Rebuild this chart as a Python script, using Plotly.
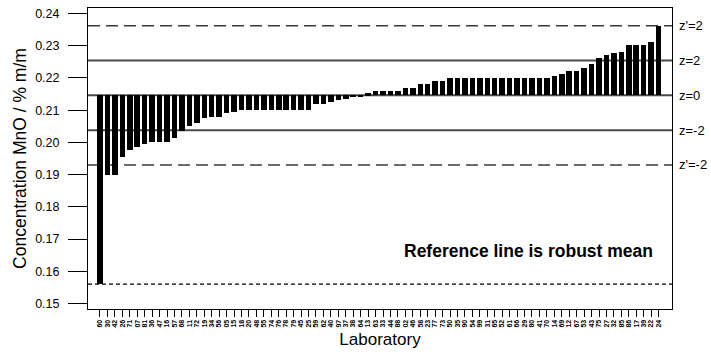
import plotly.graph_objects as go

labs = ["60","30","42","26","71","07","81","36","47","16","57","68","11","72","19","34",
        "56","05","15","18","20","48","55","74","76","78","79","45","25","59","62","40",
        "97","37","38","64","13","63","33","44","88","02","46","58","23","77","73","50",
        "35","90","54","99","31","65","52","61","66","29","80","41","70","14","69","12",
        "67","53","43","75","27","32","85","86","17","39","22","24"]

values = [0.156, 0.190, 0.190, 0.1955, 0.1975, 0.1985, 0.1995, 0.200, 0.200, 0.200,
          0.2015, 0.2035, 0.205, 0.206, 0.2075, 0.2078, 0.2078, 0.209, 0.2095,
          0.210, 0.210, 0.210, 0.210, 0.210, 0.210, 0.210, 0.210, 0.210, 0.210,
          0.212, 0.212, 0.2125, 0.213, 0.2134, 0.214, 0.214, 0.2152,
          0.216, 0.216, 0.216, 0.216,
          0.217, 0.217, 0.218, 0.218, 0.219, 0.219,
          0.220, 0.220, 0.220, 0.220, 0.220, 0.220, 0.220, 0.220, 0.220, 0.220,
          0.220, 0.220, 0.220, 0.220,
          0.2206, 0.2212, 0.2221, 0.2221, 0.2231, 0.2242, 0.2262, 0.2272, 0.2276,
          0.2281, 0.2301, 0.2301, 0.2301, 0.2311, 0.2361]

robust_mean = 0.2146
ref_values = [0.2362, 0.2254, 0.2146, 0.2038, 0.1930]
ref_labels = ["z'=2", "z=2", "z=0", "z=-2", "z'=-2"]
ref_styles = ["dash", "solid", "solid", "solid", "dash"]
lower_line = 0.1560

idx = list(range(len(values)))
FONT = "Liberation Sans, Arial, Helvetica, sans-serif"

fig = go.Figure()
fig.add_trace(go.Bar(
    x=idx, y=[v - robust_mean for v in values], base=robust_mean,
    width=0.74, marker=dict(color="black", line=dict(width=0)),
    hoverinfo="skip", showlegend=False))

shapes = []
annotations = []
for v, lab, st in zip(ref_values, ref_labels, ref_styles):
    if st == "dash":
        ln = dict(color="#3a3a3a", width=1.5, dash="12px,6px")
    else:
        ln = dict(color="#4a4a4a", width=2)
    shapes.append(dict(type="line", xref="paper", x0=0, x1=1, yref="y", y0=v, y1=v,
                       line=ln, layer="below"))
    annotations.append(dict(xref="paper", x=1, xanchor="left", xshift=5,
                            yref="y", y=v, yanchor="middle", text=lab, showarrow=False,
                            font=dict(family=FONT, size=13, color="black")))
shapes.append(dict(type="line", xref="paper", x0=0, x1=1, yref="y", y0=lower_line, y1=lower_line,
                   line=dict(color="black", width=1.3, dash="4px,3px"), layer="below"))

annotations.append(dict(xref="paper", x=0.754, xanchor="center", yref="paper", y=0.193,
                        yanchor="middle", text="<b>Reference line is robust mean</b>",
                        showarrow=False, font=dict(family=FONT, size=17.5, color="black")))

fig.update_layout(
    width=711, height=358,
    margin=dict(l=88, r=39, t=8, b=49),
    paper_bgcolor="white", plot_bgcolor="white",
    font=dict(family=FONT, color="black"),
    shapes=shapes, annotations=annotations,
    bargap=0,
    xaxis=dict(range=[-1.61, 76.8], tickmode="array", tickvals=idx, ticktext=labs,
               tickangle=-90, tickfont=dict(size=7, family=FONT, weight="bold"), ticks="outside",
               ticklen=7, tickcolor="black", showline=True, mirror=True,
               linecolor="black", linewidth=1, showgrid=False, zeroline=False,
               title=dict(text="Laboratory", font=dict(size=17, family=FONT), standoff=6)),
    yaxis=dict(range=[0.14831, 0.24169], tick0=0.15, dtick=0.01, tickformat=".2f",
               ticks="outside", ticklen=19, tickcolor="black", ticklabelstandoff=6,
               tickfont=dict(size=12.5, family=FONT),
               showline=True, mirror=True, linecolor="black", linewidth=1,
               showgrid=False, zeroline=False,
               title=dict(text="Concentration MnO / % m/m", font=dict(size=17.5, family=FONT),
                          standoff=4)),
)

fig.write_html("out.html")
